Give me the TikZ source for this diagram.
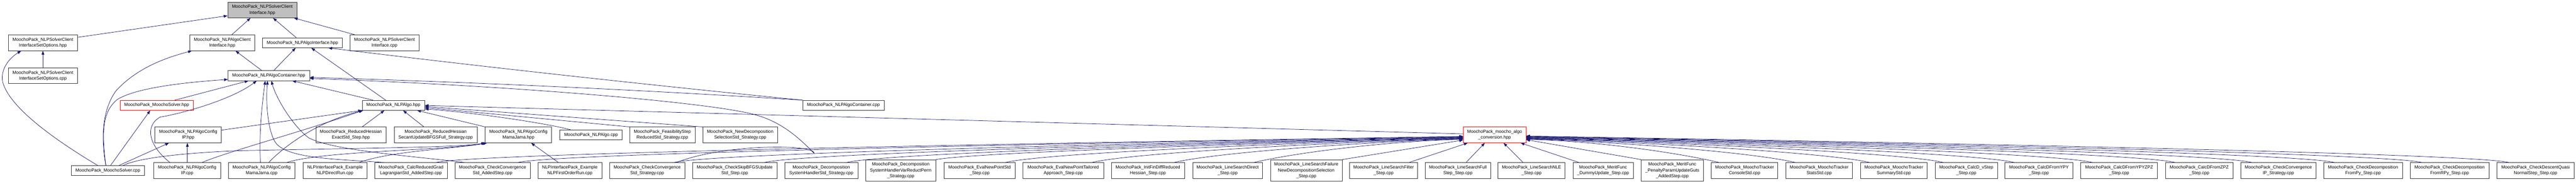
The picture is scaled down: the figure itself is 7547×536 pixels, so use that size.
\documentclass[tikz,border=0pt]{standalone}
\usepackage{fontspec}
\setmainfont{Liberation Sans}
\usetikzlibrary{arrows.meta}
\definecolor{midnight}{HTML}{191970}
\newcommand\nodefont{\fontsize{13pt}{17pt}\selectfont}
\begin{document}
\begin{tikzpicture}[x=1pt,y=-1pt,
  nbox/.style={draw=black!80, line width=1pt, fill=white, inner sep=0pt, align=center, font=\nodefont},
  b1/.style={nbox, minimum height=29pt},
  b2/.style={nbox, minimum height=46pt},
  b3/.style={nbox, minimum height=63pt},
  redb/.style={draw=red},
  topb/.style={fill=black!25},
  dep/.style={draw=midnight, line width=1.1pt, -{Triangle[length=11pt,width=8pt]}}]
\fill[white] (0,0) rectangle (7547,536);
\useasboundingbox (0,0) rectangle (7547,536);
% row 1
\node[b2, topb, minimum width=203pt] (T) at (768.5,29) {MoochoPack\_NLPSolverClient\\Interface.hpp};
% row 2
\node[b2, minimum width=202.5pt] (Sh) at (125.75,125) {MoochoPack\_NLPSolverClient\\InterfaceSetOptions.hpp};
\node[b2, minimum width=190.5pt] (ACh) at (651.25,125) {MoochoPack\_NLPAlgoClient\\Interface.hpp};
\node[b1, minimum width=234pt] (AIh) at (886,125) {MoochoPack\_NLPAlgoInterface.hpp};
\node[b2, minimum width=203pt] (SCcpp) at (1126.5,125) {MoochoPack\_NLPSolverClient\\Interface.cpp};
% row 3
\node[b2, minimum width=202.5pt] (Scpp) at (125.75,221) {MoochoPack\_NLPSolverClient\\InterfaceSetOptions.cpp};
\node[b1, minimum width=239pt] (Ch) at (787.5,221) {MoochoPack\_NLPAlgoContainer.hpp};
% row 4
\node[b1, redb, minimum width=214pt] (MSh) at (459,307.5) {MoochoPack\_MoochoSolver.hpp};
\node[b1, minimum width=183pt] (Ah) at (1152.5,307.5) {MoochoPack\_NLPAlgo.hpp};
\node[b1, minimum width=238pt] (Ccpp) at (2471,307.5) {MoochoPack\_NLPAlgoContainer.cpp};
% row 5
\node[b2, minimum width=194.6pt] (IPh) at (551.3,394) {MoochoPack\_NLPAlgoConfig\\IP.hpp};
\node[b2, minimum width=206pt] (RHEh) at (1028,394) {MoochoPack\_ReducedHessian\\ExactStd\_Step.hpp};
\node[b2, minimum width=243.5pt] (RHS) at (1276.25,394) {MoochoPack\_ReducedHessian\\SecantUpdateBFGSFull\_Strategy.cpp};
\node[b2, minimum width=194.5pt] (MJh) at (1518.75,394) {MoochoPack\_NLPAlgoConfig\\MamaJama.hpp};
\node[b1, minimum width=183pt] (Acpp) at (1731.5,394) {MoochoPack\_NLPAlgo.cpp};
\node[b2, minimum width=191pt] (FSR) at (1940.5,394) {MoochoPack\_FeasibilityStep\\ReducedStd\_Strategy.cpp};
\node[b2, minimum width=219pt] (NDS) at (2168.5,394) {MoochoPack\_NewDecomposition\\SelectionStd\_Strategy.cpp};
\node[b2, redb, minimum width=183.6pt] (MAC) at (4378.8,394) {MoochoPack\_moocho\_algo\\\_conversion.hpp};
% row 6
\node[b1, minimum width=214pt] (MScpp) at (316,498) {MoochoPack\_MoochoSolver.cpp};
\node[b2, minimum width=195pt] (IPcpp) at (548.5,498) {MoochoPack\_NLPAlgoConfig\\IP.cpp};
\node[b2, minimum width=195pt] (MJcpp) at (766.5,498) {MoochoPack\_NLPAlgoConfig\\MamaJama.cpp};
\node[b2, minimum width=187pt] (EDR) at (981.5,498) {NLPInterfacePack\_Example\\NLPDirectRun.cpp};
\node[b2, minimum width=212pt] (CRG) at (1204,498) {MoochoPack\_CalcReducedGrad\\LagrangianStd\_AddedStep.cpp};
\node[b2, minimum width=220pt] (CCAS) at (1443,498) {MoochoPack\_CheckConvergence\\Std\_AddedStep.cpp};
\node[b2, minimum width=187pt] (EFO) at (1669.5,498) {NLPInterfacePack\_Example\\NLPFirstOrderRun.cpp};
\node[b2, minimum width=220pt] (CCS) at (1896,498) {MoochoPack\_CheckConvergence\\Std\_Strategy.cpp};
\node[b2, minimum width=247pt] (CSB) at (2152.5,498) {MoochoPack\_CheckSkipBFGSUpdate\\Std\_Step.cpp};
\node[b2, minimum width=214pt] (DSH) at (2406,498) {MoochoPack\_Decomposition\\SystemHandlerStd\_Strategy.cpp};
\node[b3, minimum width=206pt] (DSHV) at (2639,498) {MoochoPack\_Decomposition\\SystemHandlerVarReductPerm\\\_Strategy.cpp};
\node[b2, minimum width=208pt] (ENP) at (2870,498) {MoochoPack\_EvalNewPointStd\\\_Step.cpp};
\node[b2, minimum width=236pt] (ENPT) at (3115,498) {MoochoPack\_EvalNewPointTailored\\Approach\_Step.cpp};
\node[b2, minimum width=214pt] (IFD) at (3363,498) {MoochoPack\_InitFinDiffReduced\\Hessian\_Step.cpp};
\node[b2, minimum width=205pt] (LSD) at (3596.5,498) {MoochoPack\_LineSearchDirect\\\_Step.cpp};
\node[b3, minimum width=210pt] (LSF) at (3827,498) {MoochoPack\_LineSearchFailure\\NewDecompositionSelection\\\_Step.cpp};
\node[b2, minimum width=199pt] (LSFi) at (4053.5,498) {MoochoPack\_LineSearchFilter\\\_Step.cpp};
\node[b2, minimum width=190.5pt] (LSFS) at (4271.25,498) {MoochoPack\_LineSearchFull\\Step\_Step.cpp};
\node[b2, minimum width=196pt] (LSN) at (4487,498) {MoochoPack\_LineSearchNLE\\\_Step.cpp};
\node[b2, minimum width=177pt] (MFD) at (4696.5,498) {MoochoPack\_MeritFunc\\\_DummyUpdate\_Step.cpp};
\node[b3, minimum width=181.5pt] (MFP) at (4899.25,498) {MoochoPack\_MeritFunc\\\_PenaltyParamUpdateGuts\\\_AddedStep.cpp};
\node[b2, minimum width=195pt] (MTC) at (5111,498) {MoochoPack\_MoochoTracker\\ConsoleStd.cpp};
\node[b2, minimum width=195pt] (MTS) at (5329.5,498) {MoochoPack\_MoochoTracker\\StatsStd.cpp};
\node[b2, minimum width=195.5pt] (MTY) at (5548.25,498) {MoochoPack\_MoochoTracker\\SummaryStd.cpp};
\node[b2, minimum width=183pt] (CDV) at (5760.5,498) {MoochoPack\_CalcD\_vStep\\\_Step.cpp};
\node[b2, minimum width=199pt] (CDY) at (5973.5,498) {MoochoPack\_CalcDFromYPY\\\_Step.cpp};
\node[b2, minimum width=225pt] (CDYZ) at (6208.5,498) {MoochoPack\_CalcDFromYPYZPZ\\\_Step.cpp};
\node[b2, minimum width=197.5pt] (CDZ) at (6443.25,498) {MoochoPack\_CalcDFromZPZ\\\_Step.cpp};
\node[b2, minimum width=220pt] (CCIP) at (6675,498) {MoochoPack\_CheckConvergence\\IP\_Strategy.cpp};
\node[b2, minimum width=230pt] (CDP) at (6923,498) {MoochoPack\_CheckDecomposition\\FromPy\_Step.cpp};
\node[b2, minimum width=231pt] (CDR) at (7176.5,498) {MoochoPack\_CheckDecomposition\\FromRPy\_Step.cpp};
\node[b2, minimum width=227pt] (CDQ) at (7428.5,498) {MoochoPack\_CheckDescentQuasi\\NormalStep\_Step.cpp};
% ---- edges into T
\draw[dep] (Sh.north east |- 0,109) -- (T.west |- 0,46);
\draw[dep] (ACh.north -| 679,0) -- (T.south -| 734,0);
\draw[dep] (AIh.north -| 868,0) -- (T.south -| 800,0);
\draw[dep] (SCcpp.north -| 1040,0) -- (T.south -| 861,0);
% into Sh
\draw[dep] (Scpp.north) -- (Sh.south);
\draw[dep] (MScpp.north -| 286,0) .. controls (180,420) and (30,320) .. (8,240) .. controls (0,200) and (30,168) .. (Sh.south -| 62,0);
% into ACh
\draw[dep] (MScpp.north -| 310,0) .. controls (295,400) and (300,320) .. (340,265) .. controls (400,200) and (480,170) .. (ACh.south -| 562,0);
\draw[dep] (Ch.north -| 767,0) -- (ACh.south -| 690,0);
% into AIh
\draw[dep] (Ch.north -| 802,0) -- (AIh.south -| 866,0);
\draw[dep] (Ah.north -| 1130,0) -- (AIh.south -| 912,0);
\draw[dep] (Ccpp.north west) .. controls (1889,247) and (1425,196) .. (AIh.south -| 962,0);
% into Ch
\draw[dep] (MScpp.north -| 310,0) .. controls (300,400) and (295,330) .. (343,291) .. controls (400,255) and (550,240) .. (Ch.west |- 0,232);
\draw[dep] (MSh.north -| 512,0) -- (Ch.south -| 728,0);
\draw[dep] (IPcpp.north -| 498,0) .. controls (440,430) and (420,370) .. (469,342) .. controls (540,330) and (680,290) .. (Ch.south -| 752,0);
\draw[dep] (MJcpp.north -| 763,0) .. controls (758,380) and (770,290) .. (Ch.south -| 777,0);
\draw[dep] (CRG.north -| 1126,0) .. controls (1000,465) and (850,465) .. (810,420) .. controls (785,390) and (778,300) .. (Ch.south -| 784,0);
\draw[dep] (CCAS.north -| 1362,0) .. controls (1200,455) and (980,440) .. (905,403) .. controls (860,370) and (810,290) .. (Ch.south -| 795,0);
\draw[dep] (Ah.north -| 1093,0) -- (Ch.south -| 856,0);
\draw[dep] (Ccpp.north west) .. controls (1870,262) and (1389,240) .. (Ch.east |- 0,226);
\draw[dep] (CCS.north -| 1982,0) .. controls (2120,420) and (2390,420) .. (2385,448) .. controls (2330,390) and (2280,355) .. (2219,337) .. controls (2100,300) and (1500,250) .. (Ch.east |- 0,229);
% into MSh, IPh
\draw[dep] (MScpp.north -| 324,0) -- (MSh.south -| 440,0);
\draw[dep] (MScpp.north -| 349,0) -- (IPh.south -| 495,0);
\draw[dep] (IPcpp.north -| 549,0) -- (IPh.south -| 549,0);
% into Ah
\draw[dep] (IPh.east |- 0,380) -- (Ah.south west);
\draw[dep] (IPcpp.north -| 592,0) .. controls (660,445) and (900,380) .. ([xshift=2pt]Ah.south west);
\draw[dep] (MJcpp.north -| 787,0) .. controls (850,410) and (950,350) .. ([xshift=4pt]Ah.south west);
\draw[dep] (RHEh.north -| 1061,0) -- (Ah.south -| 1126,0);
\draw[dep] (RHS.north -| 1242,0) -- (Ah.south -| 1181,0);
\draw[dep] (MJh.north west) -- (Ah.south -| 1222,0);
\draw[dep] (Acpp.north -| 1672,0) .. controls (1600,360) and (1400,330) .. (Ah.east |- 0,318);
\draw[dep] (FSR.north west) -- (Ah.east |- 0,314);
\draw[dep] (NDS.north west) -- (Ah.east |- 0,311);
\draw[dep] (MAC.west |- 0,391) -- (Ah.east |- 0,308);
% into MJh
\draw[dep] (MScpp.north -| 361,0) .. controls (420,455) and (600,444) .. (700,440) .. controls (1100,432) and (1350,430) .. (MJh.south west);
\draw[dep] (MJcpp.north -| 840,0) .. controls (950,440) and (1300,440) .. ([xshift=3pt]MJh.south west);
\draw[dep] (EDR.north -| 1052,0) .. controls (1150,440) and (1330,435) .. ([xshift=6pt]MJh.south west);
\draw[dep] (EFO.north -| 1636,0) -- (MJh.south -| 1556,0);
% into MAC, left side
\foreach \n/\sx/\ty in {CRG/1277/398, CCAS/1517/399, CCS/1974/400, CSB/2239/401, DSH/2480/402, DSHV/2742/403, ENP/2945/404, ENPT/3198/405, IFD/3439/406, LSD/3673/407}
  \draw[dep] (\n.north -| \sx,0) .. controls ({\sx+150},440) and (4100,{\ty+4}) .. (MAC.west |- 0,\ty);
\draw[dep] (LSF.north east) -- (MAC.west |- 0,409);
\draw[dep] (LSFi.north -| 4128,0) -- (MAC.south -| 4300,0);
\draw[dep] (LSFS.north -| 4295,0) -- (MAC.south -| 4350,0);
% into MAC, right side
\draw[dep] (LSN.north -| 4462,0) -- (MAC.south -| 4405,0);
\draw[dep] (MFD.north -| 4626,0) -- (MAC.south -| 4455,0);
\draw[dep] (MFP.north west) -- (MAC.east |- 0,408);
\foreach \n/\sx/\ty in {MTC/5037/407, MTS/5260/406, MTY/5478/405, CDV/5694/404, CDY/5902/403, CDYZ/6131/402, CDZ/6373/401, CCIP/6598/400, CDP/6840/399, CDR/7096/398, CDQ/7351/397}
  \draw[dep] (\n.north -| \sx,0) .. controls ({\sx-150},440) and (4650,{\ty+4}) .. (MAC.east |- 0,\ty);
\end{tikzpicture}
\end{document}
